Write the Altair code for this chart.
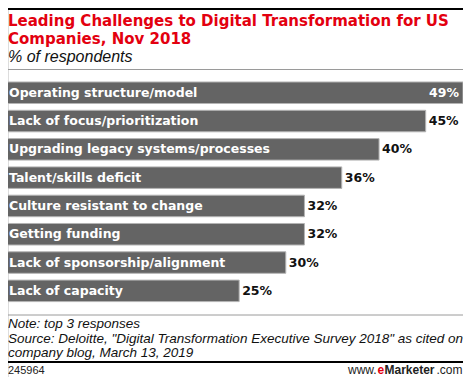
import altair as alt
import pandas as pd

categories = [
    "Operating structure/model",
    "Lack of focus/prioritization",
    "Upgrading legacy systems/processes",
    "Talent/skills deficit",
    "Culture resistant to change",
    "Getting funding",
    "Lack of sponsorship/alignment",
    "Lack of capacity",
]
values = [49, 45, 40, 36, 32, 32, 30, 25]
value_labels = [f"{v}%" for v in values]

title_lines = ["Leading Challenges to Digital Transformation for US", "Companies, Nov 2018"]
subtitle = "% of respondents"
note_lines = [
    "Note: top 3 responses",
    'Source: Deloitte, "Digital Transformation Executive Survey 2018" as cited on',
    "company blog, March 13, 2019",
]
chart_id = "245964"
brand_parts = ["www.", "e", "Marketer", ".com"]

W, H = 455, 369
RED = "#e3000f"
BAR = "#646464"

df = pd.DataFrame({"category": categories, "value": values, "label": value_labels})
df["is_max"] = df["value"] == df["value"].max()

x_scale = alt.Scale(domain=[0, max(values)], range=[-2, 455], nice=False, zero=True)
y_scale = alt.Scale(domain=categories, range=[70.6, 297.0], paddingInner=0.24, paddingOuter=0.12)

x_enc = alt.X("value:Q", scale=x_scale, axis=None)
y_enc = alt.Y("category:N", scale=y_scale, axis=None, sort=categories)

base = alt.Chart(df)

bars = base.mark_bar(color=BAR, stroke="#b4b4b4", strokeWidth=1).encode(
    x=x_enc, x2=alt.datum(0), y=y_enc
)

cat_text = base.mark_text(
    align="left", baseline="middle", color="white",
    font="DejaVu Sans", fontWeight="bold", fontSize=12.5,
).encode(x=alt.value(1), y=y_enc, text="category:N")

val_out = base.transform_filter("!datum.is_max").mark_text(
    align="left", baseline="middle", dx=3, color="#111111",
    font="DejaVu Sans", fontWeight="bold", fontSize=12.5,
).encode(x=x_enc, y=y_enc, text="label:N")

val_in = base.transform_filter("datum.is_max").mark_text(
    align="right", baseline="middle", dx=-4, color="white",
    font="DejaVu Sans", fontWeight="bold", fontSize=12.5,
).encode(x=x_enc, y=y_enc, text="label:N")


def one(**kw):
    return alt.Chart(pd.DataFrame([kw]))


def hrule(y, color, width):
    return one(a=1).mark_rule(color=color, strokeWidth=width).encode(
        x=alt.value(0), x2=alt.value(456), y=alt.value(y)
    )


def text(t, x, y, size, color="#111111", font="Liberation Sans", weight="normal",
         style="normal", align="left"):
    return one(t=t).mark_text(
        align=align, baseline="alphabetic", color=color, font=font,
        fontWeight=weight, fontStyle=style, fontSize=size,
    ).encode(x=alt.value(x), y=alt.value(y), text="t:N")


deco = [
    hrule(1, "#000000", 2),
    text(title_lines[0], 0, 18, 15, color=RED, font="DejaVu Sans", weight="bold"),
    text(title_lines[1], 0, 35.5, 15, color=RED, font="DejaVu Sans", weight="bold"),
    text(subtitle, 0, 53.5, 16, color="#111111", style="italic"),
    hrule(61.5, "#9a9a9a", 1),
    hrule(307, "#9a9a9a", 1),
    text(note_lines[0], 0, 319.5, 13.5, style="italic"),
    text(note_lines[1], 0, 334.8, 13.5, style="italic"),
    text(note_lines[2], 0, 349.2, 13.5, style="italic"),
    hrule(354, "#000000", 2),
    text(chart_id, 0, 366, 11, color="#222222"),
    text(brand_parts[0], 340, 366, 12, color="#222222"),
    text(brand_parts[1], 369.5, 366, 12, color=RED, weight="bold"),
    text(brand_parts[2], 376.5, 366, 12, color="#222222", weight="bold"),
    text(brand_parts[3], 428.5, 366, 12, color="#222222"),
]

chart = alt.layer(bars, cat_text, val_out, val_in, *deco).properties(
    width=W, height=H,
    autosize=alt.AutoSizeParams(type="none"),
    padding=0,
).configure_view(stroke=None).configure(background="white")

chart.save("out.html", embed_options={"renderer": "svg", "actions": False})
